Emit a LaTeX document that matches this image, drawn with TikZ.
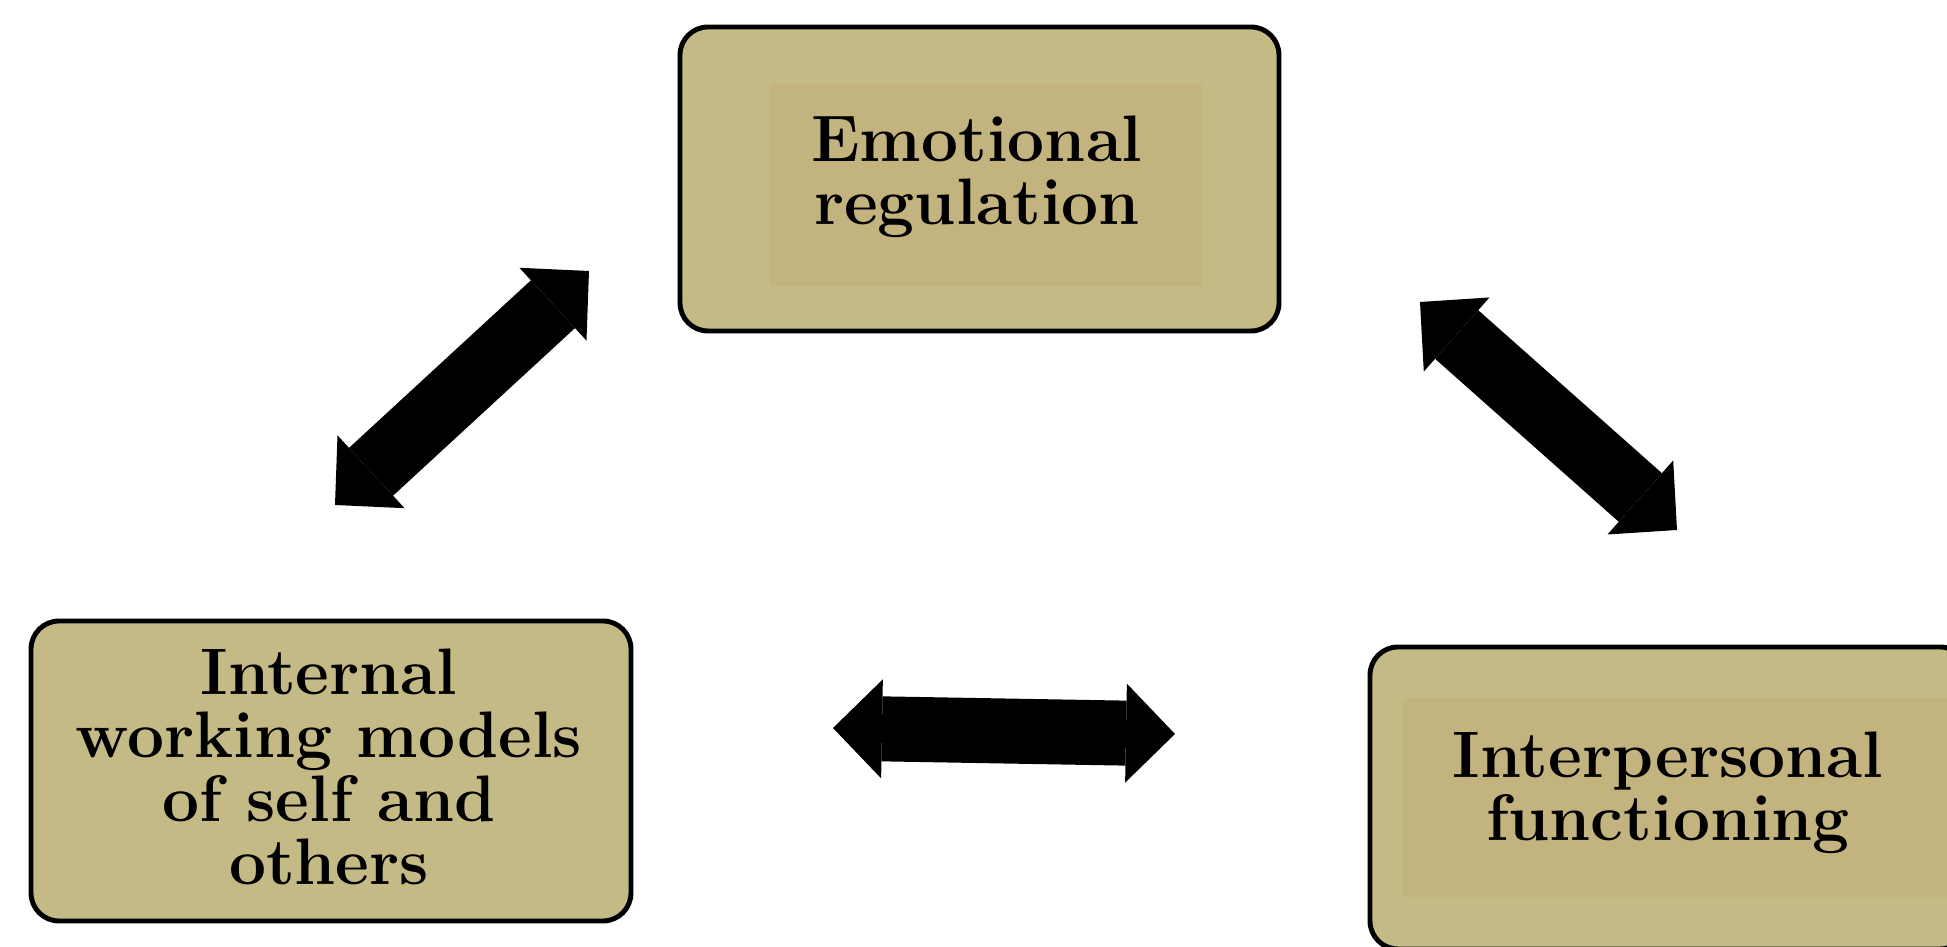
\documentclass[tikz,border=0pt]{standalone}
\usepackage{tikz}
\usetikzlibrary{arrows.meta}
\definecolor{boxtan}{RGB}{196,186,134}
\definecolor{texttan}{RGB}{194,179,127}

\begin{document}
\begin{tikzpicture}
	[box/.style={draw=black,line width=1.4pt,rounded corners=0.28cm,fill=boxtan,minimum width=6cm,minimum height=3cm},
	 bg/.style={fill=texttan,inner sep=0pt},
	 lbl/.style={font=\fontsize{18.7}{18}\selectfont\bfseries,align=center,inner sep=0pt},
	 twoway/.style={line width=0.65cm,{Triangle[width=0.99cm,length=0.49cm,line width=0pt]}-{Triangle[width=0.99cm,length=0.49cm,line width=0pt]}}]

	\clip (0,0) rectangle (19.47,9.47);
	\fill[white] (0,0) rectangle (19.47,9.47);

	% boxes
	\node[box,minimum width=5.99cm,minimum height=3.04cm] (emo) at (9.795,7.68) {};
	\node[bg,minimum width=4.32cm,minimum height=2.02cm] (emobg) at (9.86,7.62) {};
	\node[lbl] (emotxt) at (9.77,7.70) {Emotional\\regulation};

	\node[box] (iwm) at (3.31,1.76) {};
	\node[lbl] (iwmtxt) at (3.29,1.80) {Internal\\working models\\of self and\\others};

	\node[box,minimum width=5.98cm,minimum height=3.02cm] (ipf) at (16.69,1.49) {};
	\node[bg,minimum width=5.6cm,minimum height=1.99cm] (ipfbg) at (16.83,1.495) {};
	\node[lbl] (ipftxt) at (16.68,1.54) {Interpersonal\\functioning};

	% arrow ends
	\coordinate (ei1) at (5.89,6.76);
	\coordinate (ei2) at (3.35,4.42);
	\coordinate (ep1) at (14.20,6.45);
	\coordinate (ep2) at (16.77,4.17);
	\coordinate (ii1) at (8.33,2.19);
	\coordinate (ii2) at (11.75,2.13);

	\draw[twoway] (ei1) -- (ei2);
	\draw[twoway] (ep1) -- (ep2);
	\draw[twoway] (ii1) -- (ii2);

\end{tikzpicture}
\end{document}
